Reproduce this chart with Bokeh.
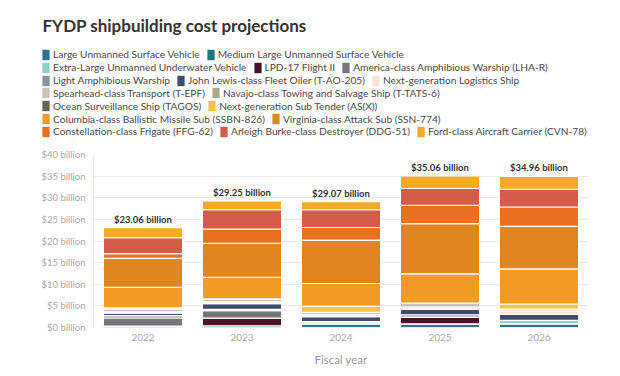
from bokeh.plotting import figure
from bokeh.models import (Range1d, FactorRange, FixedTicker, Legend, LegendItem,
                          ColumnDataSource)
from bokeh.core.properties import value
from bokeh.embed import file_html
from bokeh.resources import INLINE

# ---------------- data ----------------
years = ["2022", "2023", "2024", "2025", "2026"]
totals = [23.06, 29.25, 29.07, 35.06, 34.96]

names = [
    "Large Unmanned Surface Vehicle",
    "Medium Large Unmanned Surface Vehicle",
    "Extra-Large Unmanned Underwater Vehicle",
    "LPD-17 Flight II",
    "America-class Amphibious Warship (LHA-R)",
    "Light Amphibious Warship",
    "John Lewis-class Fleet Oiler (T-AO-205)",
    "Next-generation Logistics Ship",
    "Spearhead-class Transport (T-EPF)",
    "Navajo-class Towing and Salvage Ship (T-TATS-6)",
    "Ocean Surveillance Ship (TAGOS)",
    "Next-generation Sub Tender (AS(X))",
    "Columbia-class Ballistic Missile Sub (SSBN-826)",
    "Virginia-class Attack Sub (SSN-774)",
    "Constellation-class Frigate (FFG-62)",
    "Arleigh Burke-class Destroyer (DDG-51)",
    "Ford-class Aircraft Carrier (CVN-78)",
]

lusv = [0.30, 0.40, 0.85, 0.85, 0.85]
mlusv = [0.0, 0.0, 0.0, 0.0, 0.0]
xluuv = [0.0, 0.0, 0.50, 0.0, 0.78]
lpd17 = [0.0, 1.75, 0.0, 1.55, 0.0]
america = [1.90, 1.75, 0.0, 0.0, 0.0]
law = [0.55, 0.30, 0.0, 0.55, 0.0]
john_lewis = [0.55, 1.30, 1.15, 1.25, 1.40]
ngls = [0.36, 0.50, 0.50, 0.50, 0.80]
spearhead = [0.50, 0.60, 0.50, 0.97, 0.40]
navajo = [0.40, 0.0, 0.0, 0.0, 0.0]
tagos = [0.0, 0.0, 0.0, 0.0, 0.0]
sub_tender = [0.0, 0.0, 1.37, 0.0, 1.20]
columbia = [4.75, 5.00, 5.30, 6.73, 8.12]
virginia = [6.65, 7.85, 10.05, 11.62, 9.83]
constellation = [1.10, 3.30, 2.90, 4.25, 4.48]
burke = [3.70, 4.50, 4.10, 3.87, 4.10]
ford = [2.30, 2.00, 1.85, 2.92, 3.00]

series = [lusv, mlusv, xluuv, lpd17, america, law, john_lewis, ngls, spearhead,
          navajo, tagos, sub_tender, columbia, virginia, constellation, burke, ford]

ytick_values = [0, 5, 10, 15, 20, 25, 30, 35, 40]
ytick_labels = ["$0 billion", "$5 billion", "$10 billion", "$15 billion", "$20 billion",
                "$25 billion", "$30 billion", "$35 billion", "$40 billion"]

legend_rows = [[0, 1], [2, 3, 4], [5, 6, 7], [8, 9], [10, 11], [12, 13], [14, 15, 16]]

# ---------------- styles ----------------
colors = ["#2f6f8f", "#17787a", "#93cfc9", "#4a1426", "#767676", "#8a93a3", "#3e4b6b",
          "#f6e4d6", "#c9c3b8", "#a7ab8b", "#5f6459", "#f6c343", "#f39c25", "#df8620",
          "#e8701e", "#d35d48", "#f6a924"]
FONT = "Lato"
W = 620

# ---------------- header figure: title + legend ----------------
HEAD_H = 146
head = figure(width=W, height=HEAD_H, x_range=Range1d(0, W), y_range=Range1d(HEAD_H, 0),
              output_backend="svg", toolbar_location=None, min_border=0)
head.axis.visible = False
head.grid.visible = False
head.outline_line_color = None

head.text(x=[42], y=[25], text=["FYDP shipbuilding cost projections"],
          text_font=value(FONT), text_font_style="bold", text_font_size="17px",
          text_color="#333333", text_baseline="middle", text_align="left")

# swatch renderers (their single point lies outside the visible range)
swatches = [head.rect(x=[-100], y=[-100], width=1, height=1, fill_color=c, line_color=None)
            for c in colors]

row_center0 = 54.3
row_step = 12.85
row_h = 13
for i, row in enumerate(legend_rows):
    items = [LegendItem(label=names[k], renderers=[swatches[k]]) for k in row]
    center = row_center0 + i * row_step
    y_bottom = HEAD_H - (center + row_h / 2)
    lg = Legend(items=items, orientation="horizontal", location=(41, y_bottom),
                glyph_width=9, glyph_height=13, label_standoff=3, spacing=6,
                padding=0, margin=0, label_height=row_h,
                label_text_font=FONT, label_text_font_size="10.2px",
                label_text_color="#4a4a4a", border_line_alpha=0,
                background_fill_alpha=0)
    head.add_layout(lg, "center")

# ---------------- main chart ----------------
data = {"years": years}
keys = []
for k, s in enumerate(series):
    key = f"s{k}"
    keys.append(key)
    data[key] = s
source = ColumnDataSource(data)

MAIN_H = 376 - HEAD_H
p = figure(width=W, height=MAIN_H, x_range=FactorRange(*years), y_range=Range1d(0, 40),
           output_backend="svg", toolbar_location=None,
           min_border_left=93, min_border_right=32, min_border_top=8, min_border_bottom=49)

p.vbar_stack(keys, x="years", width=0.8, source=source, color=colors,
             line_color="white", line_width=1.2)

label_src = ColumnDataSource(dict(years=years, totals=totals,
                                  text=[f"${t:.2f} billion" for t in totals]))
p.text(x="years", y="totals", text="text", source=label_src, text_align="center",
       text_baseline="bottom", y_offset=-3, text_font=value(FONT),
       text_font_style="bold", text_font_size="9.5px", text_color="#333333")

p.outline_line_color = None
p.xgrid.grid_line_color = None
p.ygrid.grid_line_color = "#ebebeb"
p.ygrid.grid_line_width = 1

p.yaxis.ticker = FixedTicker(ticks=ytick_values)
p.yaxis.major_label_overrides = {v: l for v, l in zip(ytick_values, ytick_labels)}
p.yaxis.axis_line_color = "#e8e8e8"
p.yaxis.major_tick_line_color = None
p.yaxis.major_tick_out = 0
p.yaxis.minor_tick_line_color = None
p.yaxis.minor_tick_out = 0
p.yaxis.major_label_standoff = 8
p.yaxis.major_label_text_font = FONT
p.yaxis.major_label_text_font_size = "9.5px"
p.yaxis.major_label_text_color = "#aaaaaa"

p.xaxis.axis_line_color = None
p.xaxis.major_tick_line_color = None
p.xaxis.major_tick_out = 0
p.xaxis.major_label_standoff = 6
p.xaxis.major_label_text_font = FONT
p.xaxis.major_label_text_font_size = "10px"
p.xaxis.major_label_text_color = "#aaaaaa"
p.xaxis.axis_label = "Fiscal year"
p.xaxis.axis_label_text_font = FONT
p.xaxis.axis_label_text_font_style = "normal"
p.xaxis.axis_label_text_font_size = "11.5px"
p.xaxis.axis_label_text_color = "#999999"
p.xaxis.axis_label_standoff = 9

open("out.html", "w").write(file_html([head, p], INLINE))
